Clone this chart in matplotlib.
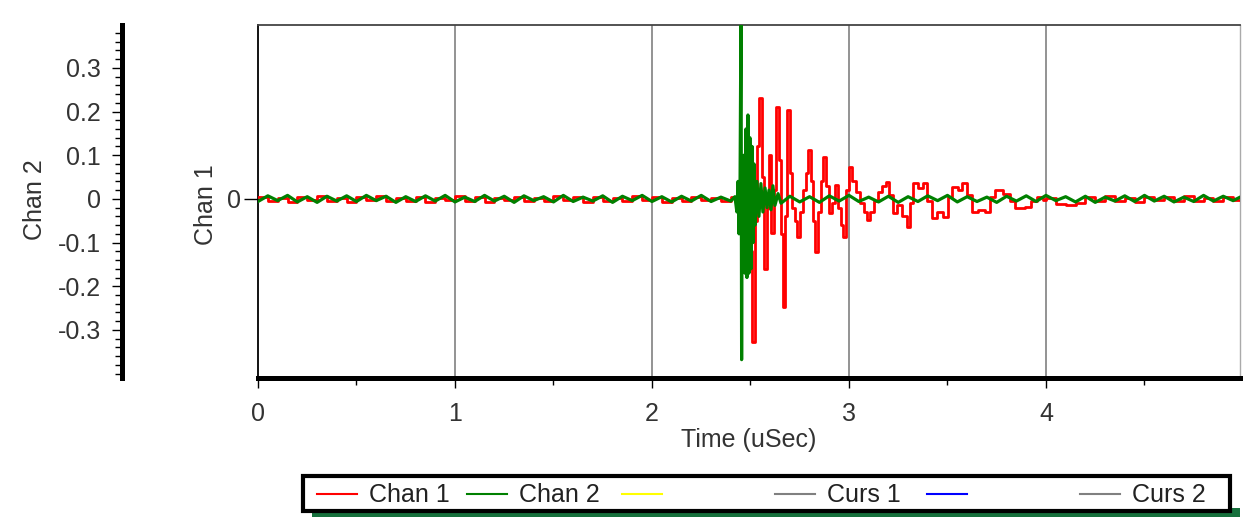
import matplotlib
matplotlib.use("Agg")
import matplotlib.pyplot as plt
from matplotlib.lines import Line2D
from matplotlib.patches import Rectangle

plt.rcParams["font.family"] = ["Liberation Sans", "DejaVu Sans"]

# traces: time in uSec, amplitude on the Chan 2 scale
CH1_T_QUIET = [0.00, 0.05, 0.10, 0.15, 0.20, 0.25, 0.30, 0.35, 0.40, 0.45,
               0.50, 0.55, 0.60, 0.65, 0.70, 0.75, 0.80, 0.85, 0.90, 0.95,
               1.00, 1.05, 1.10, 1.15, 1.20, 1.25, 1.30, 1.35, 1.40, 1.45,
               1.50, 1.55, 1.60, 1.65, 1.70, 1.75, 1.80, 1.85, 1.90, 1.95,
               2.00, 2.05, 2.10, 2.15, 2.20, 2.25, 2.30, 2.35, 2.40]
CH1_V_QUIET = [0.004, -0.005, 0.003, -0.006, 0.005, -0.002, 0.006, -0.004, 0.002, -0.007,
               0.004, -0.003, 0.006, -0.005, 0.003, -0.004, 0.005, -0.006, 0.002, -0.003,
               0.006, -0.004, 0.004, -0.006, 0.003, -0.002, 0.005, -0.005, 0.002, -0.004,
               0.006, -0.003, 0.004, -0.006, 0.005, -0.004, 0.003, -0.005, 0.006, -0.002,
               0.004, -0.006, 0.003, -0.004, 0.005, -0.003, 0.002, -0.005, 0.004]

CH1_T_BURST = [2.411, 2.447, 2.472, 2.492, 2.508, 2.523, 2.533, 2.543, 2.558, 2.569,
               2.584, 2.594, 2.604, 2.619, 2.629, 2.645, 2.655, 2.665, 2.675, 2.685,
               2.701, 2.711, 2.726, 2.736, 2.751, 2.766, 2.782, 2.792, 2.807, 2.817,
               2.827, 2.843, 2.858, 2.868, 2.883, 2.898, 2.914, 2.929, 2.944, 2.959,
               2.970, 2.985, 3.000, 3.015, 3.036, 3.056, 3.076, 3.091, 3.107, 3.127,
               3.147, 3.168, 3.188, 3.203, 3.223, 3.244, 3.269, 3.294, 3.310, 3.325,
               3.350, 3.376, 3.396, 3.421, 3.447, 3.477, 3.503, 3.523, 3.553, 3.574,
               3.599, 3.624, 3.655, 3.690, 3.716, 3.741, 3.782, 3.817, 3.843, 3.893,
               3.924, 3.954, 3.985]
CH1_V_BURST = [0.004, -0.010, 0.020, -0.120, -0.327, -0.050, 0.120, 0.231, 0.050, -0.160,
               -0.020, 0.100, -0.078, 0.020, 0.210, 0.090, -0.080, -0.247, -0.040, 0.204,
               0.060, -0.020, -0.050, -0.087, -0.030, 0.020, 0.060, 0.112, 0.040, -0.050,
               -0.121, -0.030, 0.040, 0.096, 0.030, -0.032, -0.010, 0.032, -0.020, -0.060,
               -0.087, 0.020, 0.073, 0.040, 0.015, -0.010, -0.030, -0.048, -0.030, -0.005,
               0.015, 0.030, 0.039, 0.010, -0.032, -0.015, -0.040, -0.064, -0.010, 0.037,
               0.025, 0.037, -0.005, -0.044, -0.030, -0.041, 0.005, 0.027, 0.020, 0.037,
               0.010, -0.030, -0.025, -0.030, 0.005, 0.020, 0.012, -0.005, -0.020, -0.018,
               -0.005, 0.005, -0.003]

CH1_T_TAIL = [4.00, 4.05, 4.10, 4.15, 4.20, 4.25, 4.30, 4.35, 4.40, 4.45,
              4.50, 4.55, 4.60, 4.65, 4.70, 4.75, 4.80, 4.85, 4.90, 4.95, 4.99]
CH1_V_TAIL = [0.003, -0.012, -0.014, -0.010, 0.004, -0.005, 0.006, -0.004, 0.003, -0.006,
              0.005, -0.003, 0.004, -0.005, 0.006, -0.004, 0.003, -0.005, 0.004, -0.003, 0.002]

CH2_T_QUIET = CH1_T_QUIET
CH2_V_QUIET = [-0.006, 0.007, -0.004, 0.008, -0.007, 0.005, -0.008, 0.006, -0.005, 0.007,
               -0.006, 0.008, -0.004, 0.006, -0.008, 0.005, -0.006, 0.007, -0.005, 0.008,
               -0.007, 0.004, -0.006, 0.008, -0.005, 0.006, -0.008, 0.007, -0.004, 0.005,
               -0.007, 0.008, -0.006, 0.004, -0.005, 0.007, -0.008, 0.006, -0.004, 0.008,
               -0.006, 0.005, -0.007, 0.006, -0.005, 0.008, -0.006, 0.004, -0.005]

CH2_T_BURST = [2.421, 2.431, 2.437, 2.442, 2.447, 2.452, 2.455, 2.457, 2.462, 2.467,
               2.472, 2.477, 2.482, 2.487, 2.492, 2.497, 2.503, 2.508, 2.513, 2.518,
               2.523, 2.533, 2.543, 2.553, 2.563, 2.574, 2.584, 2.594, 2.604, 2.614,
               2.624, 2.640, 2.655]
CH2_V_BURST = [0.005, -0.030, 0.040, -0.080, 0.030, 0.450, -0.368, 0.020, -0.150, 0.100,
               -0.170, 0.160, -0.180, 0.192, -0.170, 0.140, -0.160, 0.120, -0.100, 0.080,
               -0.060, 0.040, -0.040, 0.035, -0.030, 0.025, -0.020, 0.020, -0.025, 0.030,
               -0.015, 0.012, -0.010]

CH2_T_TAIL = [2.70, 2.75, 2.80, 2.85, 2.90, 2.95, 3.00, 3.05, 3.10, 3.15,
              3.20, 3.25, 3.30, 3.35, 3.40, 3.45, 3.50, 3.55, 3.60, 3.65,
              3.70, 3.75, 3.80, 3.85, 3.90, 3.95, 4.00, 4.05, 4.10, 4.15,
              4.20, 4.25, 4.30, 4.35, 4.40, 4.45, 4.50, 4.55, 4.60, 4.65,
              4.70, 4.75, 4.80, 4.85, 4.90, 4.95, 4.99]
CH2_V_TAIL = [0.006, -0.007, 0.005, -0.008, 0.007, -0.005, 0.008, -0.006, 0.004, -0.007,
              0.006, -0.008, 0.005, -0.006, 0.007, -0.004, 0.008, -0.007, 0.005, -0.006,
              0.004, -0.008, 0.006, -0.005, 0.007, -0.006, 0.008, -0.004, 0.005, -0.007,
              0.006, -0.008, 0.004, -0.005, 0.007, -0.006, 0.008, -0.005, 0.006, -0.007,
              0.004, -0.006, 0.008, -0.005, 0.006, -0.004, 0.005]

X_TICKS = [0, 1, 2, 3, 4]
X_MINOR = [0.5, 1.5, 2.5, 3.5, 4.5]
CH2_TICKS = [-0.3, -0.2, -0.1, 0.0, 0.1, 0.2, 0.3]
CH2_TICK_LABELS = ["-0.3", "-0.2", "-0.1", "0", "0.1", "0.2", "0.3"]
CH2_MINOR = [-0.40, -0.38, -0.36, -0.34, -0.32, -0.28, -0.26, -0.24, -0.22, -0.18,
             -0.16, -0.14, -0.12, -0.08, -0.06, -0.04, -0.02, 0.02, 0.04, 0.06,
             0.08, 0.12, 0.14, 0.16, 0.18, 0.22, 0.24, 0.26, 0.28, 0.32,
             0.34, 0.36, 0.38]

LEGEND = [("Chan 1", "#ff0000"), ("Chan 2", "#008000"), ("", "#ffff00"),
          ("Curs 1", "#808080"), ("", "#0000ff"), ("Curs 2", "#808080")]

W, H = 1246, 517
FS = 18
TXT = "#333333"

fig = plt.figure(figsize=(W / 100, H / 100), dpi=100)
fig.patch.set_facecolor("white")


def fx(px):
    return px / W


def fy(py):
    return 1 - py / H


ax = fig.add_axes([fx(258), fy(378), fx(1240) - fx(258), fy(25) - fy(378)])
ax.set_xlim(0, 4.985)
ax.set_ylim(-0.41, 0.398)

ch1_t = CH1_T_QUIET + CH1_T_BURST + CH1_T_TAIL
ch1_v = CH1_V_QUIET + CH1_V_BURST + CH1_V_TAIL
ch2_t = CH2_T_QUIET + CH2_T_BURST + CH2_T_TAIL
ch2_v = CH2_V_QUIET + CH2_V_BURST + CH2_V_TAIL
ax.plot(ch1_t, ch1_v, color="#ff0000", lw=2.0, drawstyle="steps-post", zorder=3)
ax.plot(ch2_t, ch2_v, color="#008000", lw=2.3, zorder=4)

for x in X_TICKS[1:]:
    ax.axvline(x, color="#808080", lw=1.2, zorder=1)

ax.set_xticks(X_TICKS)
ax.set_xticks(X_MINOR, minor=True)
ax.set_xticklabels([str(v) for v in X_TICKS])
ax.tick_params(axis="x", which="major", length=7, width=1, pad=10,
               labelsize=FS, labelcolor=TXT)
ax.tick_params(axis="x", which="minor", length=5, width=1)
ax.set_yticks([0])
ax.set_yticklabels(["0"])
ax.tick_params(axis="y", length=10, width=1, pad=2, labelsize=FS, labelcolor=TXT)

ax.spines["bottom"].set_linewidth(3.6)
ax.spines["left"].set_linewidth(1.3)
ax.spines["top"].set_linewidth(1.3)
ax.spines["top"].set_color("#444444")
ax.spines["right"].set_linewidth(1.0)
ax.spines["right"].set_color("#aaaaaa")

# separate Chan 2 scale on the far left
ax2 = fig.add_axes([fx(122), fy(378), 0.0005, fy(25) - fy(378)])
ax2.set_ylim(-0.41, 0.398)
ax2.set_xticks([])
for s in ["top", "right", "bottom"]:
    ax2.spines[s].set_visible(False)
ax2.spines["left"].set_linewidth(3.6)
ax2.set_yticks(CH2_TICKS)
ax2.set_yticklabels(CH2_TICK_LABELS)
ax2.set_yticks(CH2_MINOR, minor=True)
ax2.tick_params(axis="y", which="major", length=7, width=1, pad=8,
                labelsize=FS, labelcolor=TXT)
ax2.tick_params(axis="y", which="minor", length=5, width=1)
ax2.patch.set_visible(False)

fig.text(fx(35), fy(200), "Chan 2", rotation=90, ha="center", va="center",
         fontsize=FS, color=TXT)
fig.text(fx(206), fy(205), "Chan 1", rotation=90, ha="center", va="center",
         fontsize=FS, color=TXT)
fig.text(fx(749), fy(440), "Time (uSec)", ha="center", va="center",
         fontsize=FS, color=TXT)

# legend strip drawn by hand to keep the wide spacing of the original
fig.add_artist(Rectangle((fx(312), 0), fx(1240) - fx(312), fy(508), transform=fig.transFigure,
                         facecolor="#16703c", edgecolor="none", zorder=5))
fig.add_artist(Rectangle((fx(303), fy(511)), fx(1230) - fx(303), fy(476) - fy(511),
                         transform=fig.transFigure, facecolor="white",
                         edgecolor="black", lw=3, zorder=6))
line_x = [317, 467, 622, 775, 927, 1080]
for (label, color), x0 in zip(LEGEND, line_x):
    fig.add_artist(Line2D([fx(x0), fx(x0 + 40)], [fy(494), fy(494)], color=color,
                          lw=1.5, transform=fig.transFigure, zorder=7))
    if label:
        fig.text(fx(x0 + 52), fy(495), label, ha="left", va="center",
                 fontsize=FS, color="#222222", zorder=7)

fig.savefig("out.png", dpi=100)
